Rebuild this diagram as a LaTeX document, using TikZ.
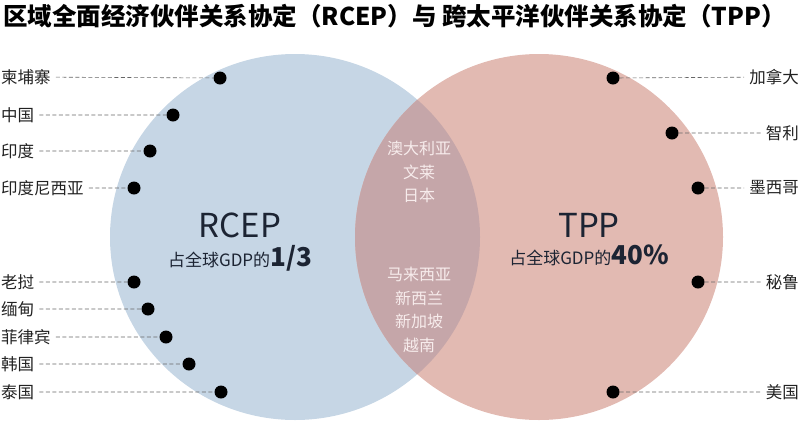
\documentclass[tikz,border=0pt]{standalone}
\usepackage{fontspec}
\setmainfont{Noto Sans CJK SC}
\usetikzlibrary{positioning}
\definecolor{rcepblue}{RGB}{198,214,229}
\definecolor{tpppink}{RGB}{226,186,178}
\definecolor{overlap}{RGB}{197,166,169}
\definecolor{inktext}{RGB}{34,34,34}
\definecolor{hubtext}{RGB}{28,36,51}
\definecolor{lenstext}{RGB}{247,236,236}

\begin{document}
\begin{tikzpicture} [%
    x = 1pt,
    y = -1pt,
    country/.style = {%
      inner xsep = 5pt,
      inner ysep = 1pt,
      text = inktext,
      font = \fontsize{16.5}{18}\selectfont },
    member/.style = {%
      circle,
      fill = black,
      inner sep = 0pt,
      minimum size = 13pt },
    leader/.style = {%
      draw = black!60,
      line width = 0.6pt,
      dash pattern = on 4pt off 2.5pt },
    hub/.style = {%
      text = hubtext,
      inner sep = 0pt,
      font = \fontsize{33}{36}\selectfont },
    share/.style = {%
      text = hubtext,
      inner sep = 0pt,
      font = \fontsize{17}{20}\selectfont },
    both/.style = {%
      text = lenstext,
      align = center,
      inner sep = 0pt,
      font = \fontsize{16}{23.5}\selectfont }
  ]

  \useasboundingbox (0,0) rectangle (800,437);

  % the two blocs
  \fill[rcepblue] (295,237) ellipse [x radius=185, y radius=183];
  \fill[tpppink] (539,237) ellipse [x radius=184, y radius=183];
  \begin{scope}
    \clip (295,237) ellipse [x radius=185, y radius=183];
    \fill[overlap] (539,237) ellipse [x radius=184, y radius=183];
  \end{scope}

  \node[anchor=west, inner sep=0pt, font=\bfseries\fontsize{24.5}{26}\selectfont] (title) at (3,16)
    {区域全面经济伙伴关系协定（RCEP）与 跨太平洋伙伴关系协定（TPP）};

  \node[hub] (R) at (240,225) {RCEP};
  \node[share] (Rs) [below=7pt of R] {占全球GDP的{\bfseries\fontsize{26}{28}\selectfont 1/3}};
  \node[hub] (T) at (589,225) {TPP};
  \node[share] (Ts) [below=7pt of T] {占全球GDP的{\bfseries\fontsize{26}{28}\selectfont 40\%}};

  \node[both] (top) at (419,172) {澳大利亚\\文莱\\日本};
  \node[both] (low) at (419,310) {马来西亚\\新西兰\\新加坡\\越南};

  % RCEP only
  \node[member] (khd) at (220,78) {};
  \node[member] (cnd) at (173,115) {};
  \node[member] (ind) at (150,151) {};
  \node[member] (idd) at (134,188) {};
  \node[member] (lad) at (134,282) {};
  \node[member] (mmd) at (148,309) {};
  \node[member] (phd) at (166,337) {};
  \node[member] (krd) at (189,364) {};
  \node[member] (thd) at (221,392) {};

  \node[country, anchor=west] (kh) at (-4,77) {柬埔寨};
  \node[country, anchor=west] (cn) at (-4,115) {中国};
  \node[country, anchor=west] (in) at (-4,151) {印度};
  \node[country, anchor=west] (id) at (-4,188) {印度尼西亚};
  \node[country, anchor=west] (la) at (-4,282) {老挝};
  \node[country, anchor=west] (mm) at (-4,309) {缅甸};
  \node[country, anchor=west] (ph) at (-4,337) {菲律宾};
  \node[country, anchor=west] (kr) at (-4,364) {韩国};
  \node[country, anchor=west] (th) at (-4,392) {泰国};

  % TPP only
  \node[member] (cad) at (613,78) {};
  \node[member] (cld) at (672,133) {};
  \node[member] (mxd) at (698,188) {};
  \node[member] (ped) at (698,282) {};
  \node[member] (usd) at (613,392) {};

  \node[country, anchor=east] (ca) at (804,77) {加拿大};
  \node[country, anchor=east] (cl) at (804,133) {智利};
  \node[country, anchor=east] (mx) at (804,188) {墨西哥};
  \node[country, anchor=east] (pe) at (804,282) {秘鲁};
  \node[country, anchor=east] (us) at (804,392) {美国};

  \path[leader]
  (kh) -- (khd)  (cn) -- (cnd)  (in) -- (ind)
  (id) -- (idd)  (la) -- (lad)  (mm) -- (mmd)
  (ph) -- (phd)  (kr) -- (krd)  (th) -- (thd)
  (cad) -- (ca)  (cld) -- (cl)  (mxd) -- (mx)
  (ped) -- (pe)  (usd) -- (us);

\end{tikzpicture}
\end{document}
